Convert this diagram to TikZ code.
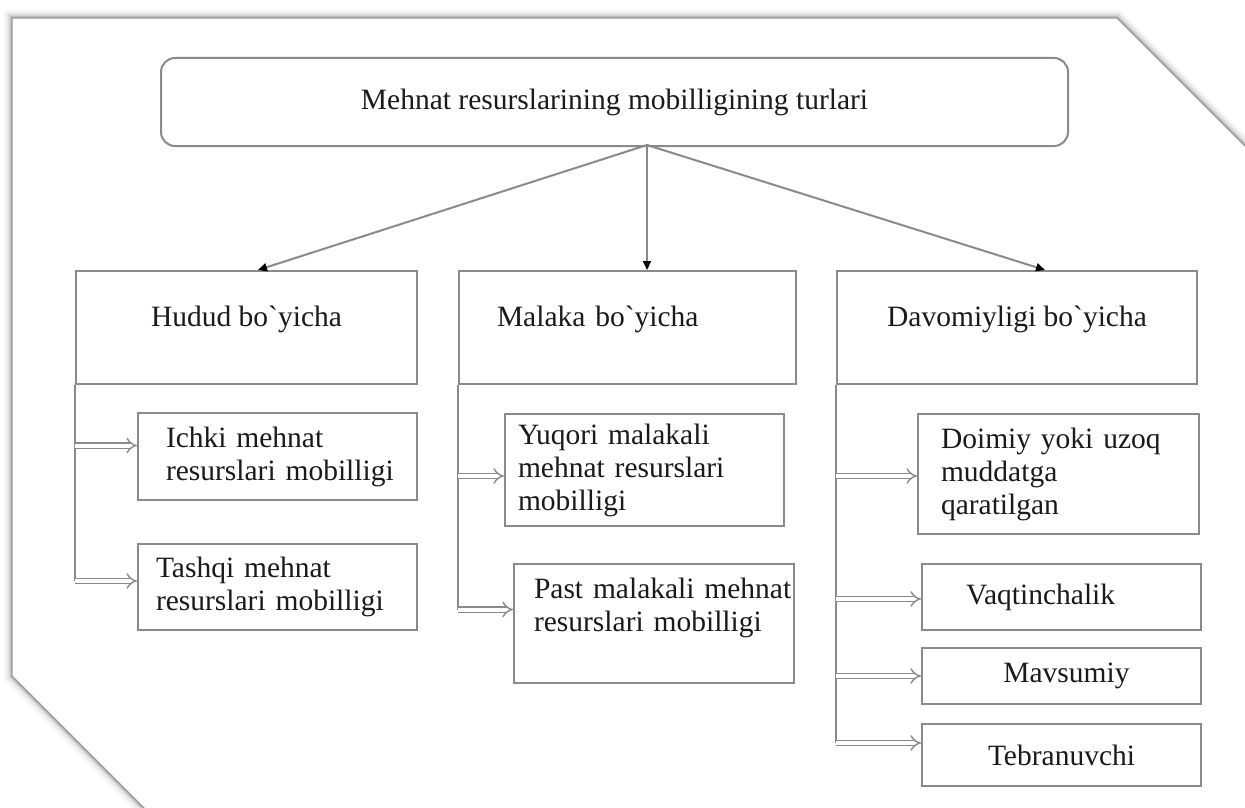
\documentclass[tikz,border=0pt]{standalone}
\usepackage{fontspec}
\setmainfont{Liberation Serif}[Ligatures=TeXOff]
\usetikzlibrary{arrows.meta,calc}
\definecolor{boxgray}{HTML}{8A8A8A}
\definecolor{txt}{HTML}{1A1A1A}
\definecolor{framegray}{HTML}{9A9A9A}
\begin{document}
\begin{tikzpicture}[x=1pt,y=-1pt,
  every node/.style={font=\fontsize{29.5}{33}\selectfont, text=txt},
  bx/.style={draw=boxgray, line width=2pt, rectangle, anchor=north west, inner ysep=0pt},
  onel/.style={text height=20pt, text depth=22pt},
  conn/.style={draw=boxgray, line width=2pt, -{Triangle[length=9pt,width=8pt,color=black]}},
  vline/.style={draw=boxgray, line width=2pt},
  dbl/.style={draw=boxgray, line width=1.4pt, double=white, double distance=4pt, -{Implies}}
]
\useasboundingbox (0,0) rectangle (1245,808);
\fill[white] (0,0) rectangle (1245,808);

% frame with soft shadow
\begin{scope}
\clip (0,0) rectangle (1245,808);
\def\framepath{(12,18) -- (1117,18) -- (1300,201) -- (1300,900) -- (236,900) -- (12,676) -- cycle}
\foreach \w/\o in {16/0.03, 12/0.04, 8/0.06, 5/0.08, 3/0.12}{
  \draw[line width=\w pt, black, opacity=\o, line join=miter] \framepath;
}
\fill[white] \framepath;
\draw[framegray, line width=1.2pt] \framepath;
\end{scope}

% title
\node[bx, rounded corners=14pt, minimum width=907pt, minimum height=88pt] (title) at (160,57)
  {Mehnat resurslarining mobilligining turlari};

% level 2
\node[bx, onel, minimum width=341pt, minimum height=113pt] (hudud) at (75,270) {Hudud bo`yicha};
\node[bx, onel, minimum width=337pt, minimum height=113pt, inner xsep=38pt, text width=261pt, align=left] (malaka) at (458,270) {Malaka bo`yicha};
\node[bx, onel, minimum width=360pt, minimum height=113pt] (davom) at (836,270) {Davomiyligi bo`yicha};

% level 3
\node[bx, minimum width=279pt, minimum height=87pt, inner xsep=28pt, text width=223pt, align=left] (ichki) at (137,412)
  {Ichki mehnat\\\mbox{resurslari mobilligi}};
\node[bx, minimum width=279pt, minimum height=86pt, inner xsep=18pt, text width=243pt, align=left] (tashqi) at (137,543)
  {Tashqi mehnat\\\mbox{resurslari mobilligi}};
\node[bx, minimum width=279pt, minimum height=112pt, inner xsep=13pt, text width=253pt, align=left] (yuqori) at (504,413)
  {Yuqori malakali\\mehnat resurslari\\mobilligi};
\node[bx, minimum width=280pt, minimum height=119pt, inner xsep=20pt, text width=240pt, align=left] (past) at (513,563)
  {\mbox{Past malakali mehnat}\\\mbox{resurslari mobilligi}\\[-6pt]\strut};
\node[bx, minimum width=281pt, minimum height=120pt, inner xsep=23pt, text width=235pt, align=left] (doimiy) at (917,413)
  {Doimiy yoki uzoq\\muddatga\\qaratilgan};
\node[bx, minimum width=279pt, minimum height=66pt, inner xsep=44pt, text width=191pt, align=left] (vaqt) at (921,563)
  {Vaqtinchalik};
\node[bx, minimum width=279pt, minimum height=56pt] (mavs) at (921,647) {\hspace{10pt}Mavsumiy};
\node[bx, minimum width=279pt, minimum height=62pt] (tebr) at (921,723) {Tebranuvchi};

% connectors from title
\coordinate (src) at (647,145);
\draw[conn] (src) -- ($(hudud.north west)+(183,0)$);
\draw[conn] (src) -- (src |- malaka.north);
\draw[conn] (src) -- ($(davom.north west)+(209,0)$);

% branch points
\coordinate (a1) at ([yshift=11pt]ichki.west);
\coordinate (a2) at ([yshift=6pt]tashqi.west);
\coordinate (b1) at ([yshift=-6pt]yuqori.west);
\coordinate (b2) at ([yshift=14pt]past.west);
\coordinate (c1) at ([yshift=-2pt]doimiy.west);
\coordinate (c2) at ([yshift=-2pt]vaqt.west);
\coordinate (c3) at (mavs.west);
\coordinate (c4) at ([yshift=12pt]tebr.west);

\draw[vline] (hudud.south west) -- (hudud.south west |- a2);
\draw[dbl] (hudud.south west |- a1) -- (a1);
\draw[dbl] (hudud.south west |- a2) -- (a2);

\draw[vline] (malaka.south west) -- (malaka.south west |- b2);
\draw[dbl] (malaka.south west |- b1) -- (b1);
\draw[dbl] (malaka.south west |- b2) -- (b2);

\draw[vline] (davom.south west) -- (davom.south west |- c4);
\draw[dbl] (davom.south west |- c1) -- (c1);
\draw[dbl] (davom.south west |- c2) -- (c2);
\draw[dbl] (davom.south west |- c3) -- (c3);
\draw[dbl] (davom.south west |- c4) -- (c4);
\end{tikzpicture}
\end{document}
